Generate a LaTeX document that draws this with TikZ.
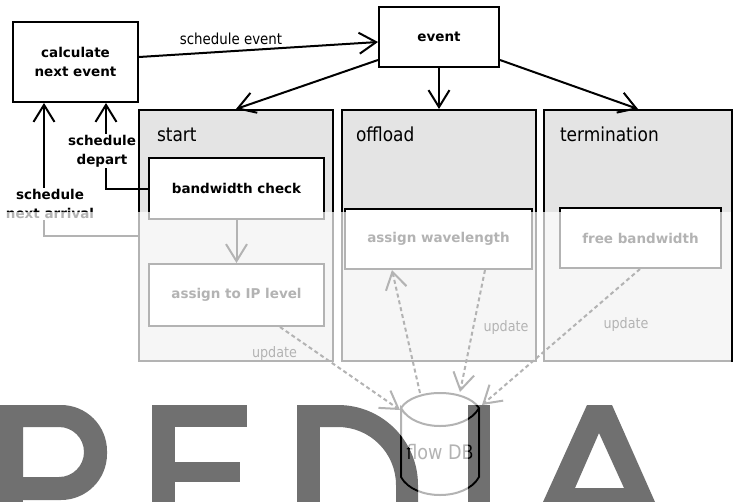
\documentclass[tikz,border=0pt]{standalone}
\usepackage{fontspec}
\newfontfamily\dv{DejaVu Sans}
\newfontfamily\dvn{DejaVu Sans}[FakeStretch=0.88]
\usetikzlibrary{arrows.meta,calc}
\definecolor{lanegray}{RGB}{228,228,228}
\definecolor{lettergray}{RGB}{112,112,112}
\definecolor{fadegray}{RGB}{179,179,179}
\newcommand\fbold{\dv\bfseries\fontsize{13.5}{19}\selectfont}
\newcommand\flab{\dvn\fontsize{15.2}{18}\selectfont}
\newcommand\flane{\dvn\fontsize{19.3}{22}\selectfont}
\newcommand\fupd{\dvn\fontsize{14.5}{17}\selectfont}
\newcommand\fdb{\dvn\fontsize{20}{24}\selectfont}
\newcommand\storepath{(401,408) .. controls (414,388) and (466,388) .. (479,408)
      .. controls (466,432) and (414,432) .. (401,408) -- (401,477)
      .. controls (414,501) and (466,501) .. (479,477) -- (479,408)}
\begin{document}
\begin{tikzpicture}[x=1pt,y=-1pt,line width=2pt,
  >={Straight Barb[length=17pt,width=21pt]},
  box/.style={draw,fill=white,inner sep=0pt,align=center,font=\fbold},
  lane/.style={draw,fill=lanegray,inner sep=0pt},
  lanelbl/.style={anchor=base west,inner sep=0pt,font=\flane},
  sidelbl/.style={fill=white,inner sep=1pt,align=center,font=\fbold},
  lbl/.style={inner sep=0pt,font=\flab},
  upd/.style={anchor=base,inner sep=0pt,font=\fupd},
  dsh/.style={draw=fadegray,dash pattern=on 4pt off 3pt},
  letter/.style={fill=lettergray}]
\fill[white] (0,0) rectangle (733,501);
\useasboundingbox (0,0) rectangle (733,501);
% lanes
\node[lane,minimum width=194pt,minimum height=251pt] (start) at (236,235.5) {};
\node[lane,minimum width=194pt,minimum height=251pt] (offload) at (439,235.5) {};
\node[lane,minimum width=188pt,minimum height=251pt] (term) at (638,235.5) {};
\node[lanelbl] (startl) at (156,141) {start};
\node[lanelbl] (offloadl) at (355,141) {offload};
\node[lanelbl] (terml) at (559,141) {termination};
% boxes
\node[box,minimum width=125pt,minimum height=80pt] (calc) at (75.5,62) {calculate\\next event};
\node[box,minimum width=120pt,minimum height=60pt] (event) at (439,37) {event};
\node[box,minimum width=175pt,minimum height=61pt] (bw) at (236.5,188.5) {bandwidth check};
\node[box,minimum width=175pt,minimum height=62pt] (ip) at (236.5,295) {assign to IP level};
\node[box,minimum width=187pt,minimum height=60pt] (wave) at (438.5,239) {assign wavelength};
\node[box,minimum width=161pt,minimum height=60pt] (free) at (640.5,238) {free bandwidth};
% top arrows
\draw[->] ($(calc.east)+(0,-5)$) -- ($(event.west)+(0,5)$);
\node[lbl] (selbl) at (231,39) {schedule event};
\draw[->] ($(event.south west)+(0,-8)$) -- (start.north);
\draw[->] (event.south) -- (offload.north);
\draw[->] ($(event.south east)+(0,-8)$) -- (term.north);
% left connectors
\coordinate (dep) at (106,188.5);
\draw[->] (bw.west) -- (dep) -- (dep |- calc.south);
\node[sidelbl] (deplbl) at (102,151) {schedule\\depart};
\coordinate (arr) at (44,236);
\draw[->] (start.west |- arr) -- (arr) -- (arr |- calc.south);
\node[sidelbl] (arrlbl) at (50,204) {schedule\\next arrival};
% inner arrow
\draw[->] (bw.south) -- (ip.north);
\node[upd] (u1) at (274.5,357) {update};
\node[upd] (u2) at (506,331) {update};
\node[upd] (u3) at (626,328) {update};
% fading overlay
\fill[white,fill opacity=0.7] (0,212) rectangle (731,501);
% watermark letters
\begin{scope}
\clip (0,0) rectangle (733,501);
\fill[letter] (0,405) rectangle (23,502);
\fill[letter,even odd rule] (0,405) [rounded corners=46pt] -- (107,405) -- (107,500) [sharp corners] -- (0,500) -- cycle
  (23,427) [rounded corners=25pt] -- (84,427) -- (84,477) [sharp corners] -- (23,477) -- cycle;
\fill[letter] (152,405) rectangle (175,502);
\fill[letter] (152,405) rectangle (247,427);
\fill[letter] (152,462) rectangle (240,482);
\fill[letter] (297,405) rectangle (320,502);
\fill[letter] (297,405) -- (338,405) .. controls (382.2,405) and (418,440.8) .. (418,485) -- (418,502)
  -- (396,502) -- (396,485) .. controls (396,453) and (370,427) .. (338,427) -- (297,427) -- cycle;
\fill[letter] (468,405) rectangle (490,502);
\fill[letter,even odd rule] (587,405) -- (612,405) -- (655,502) -- (543,502) -- cycle
  (599,433) -- (624,488) -- (575,488) -- cycle;
\end{scope}
% flow DB store (faded)
\node[inner sep=0pt,minimum width=78pt,minimum height=121pt,font=\fdb,text=fadegray] (db) at (440,452.5) {flow DB};
\draw[fadegray] \storepath;
% dashed updates (faded)
\draw[dsh,->] ($(ip.south)+(43.5,0)$) -- ($(db.north)+(-40,19)$);
\draw[dsh,->] ($(db.north)+(-20,2)$) -- ($(wave.south)+(-46.5,0)$);
\draw[dsh,->] ($(wave.south)+(46.5,0)$) -- ($(db.north)+(20,1)$);
\draw[dsh,->] ($(free.south)+(-0.5,0)$) -- ($(db.north)+(42,14)$);
% parts of the store lying over the letters
\begin{scope}
\clip (338,485) -- (338,405) .. controls (382.2,405) and (418,440.8) .. (418,485) -- (418,502) -- (338,502) -- cycle;
\draw \storepath;
\node[inner sep=0pt,font=\fdb] (dbdark) at (db.center) {flow DB};
\end{scope}
\begin{scope}
\clip (468,405) rectangle (490,501);
\draw \storepath;
\node[inner sep=0pt,font=\fdb] (dbdark2) at (db.center) {flow DB};
\end{scope}
\end{tikzpicture}
\end{document}
